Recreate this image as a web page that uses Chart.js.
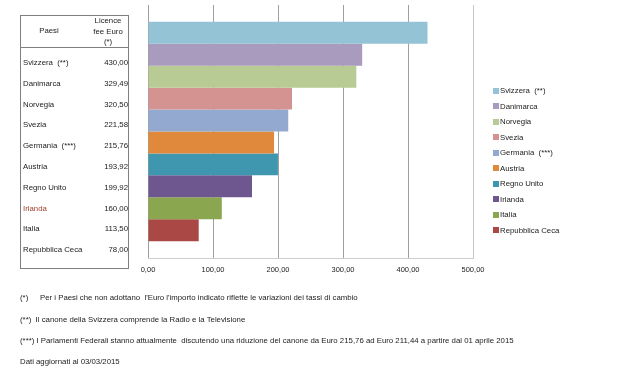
<!DOCTYPE html>
<html>
<head>
<meta charset="utf-8">
<script src="https://cdn.jsdelivr.net/npm/chart.js@4"></script>
<style>
    body { margin: 0; background: #fff; font-family: 'Liberation Sans', Arial, sans-serif; font-size: 7.8px; color: #222; }
    #wrap { position: relative; width: 618px; height: 366px; overflow: hidden; }
    #chart { position: absolute; left: 0; top: 0; }
    .abs { position: absolute; white-space: pre; line-height: 10px; }
    #table { position: absolute; left: 20px; top: 15px; width: 107px; height: 252px; border: 1px solid #7f7f7f; }
    #table .sep { position: absolute; left: 0; right: 0; top: 31px; border-top: 1px solid #7f7f7f; }
    .sw { display: inline-block; width: 6px; height: 6px; margin-right: 1px; vertical-align: -0.5px; }
</style>
</head>
<body>
<div id="wrap">
    <canvas id="chart" width="618" height="366"></canvas>
    <div id="table"><div class="sep"></div></div>
    <div id="legend"></div>
    <div id="notes"></div>
</div>
<script>
var countries = ['Svizzera  (**)', 'Danimarca', 'Norvegia', 'Svezia', 'Germania  (***)', 'Austria', 'Regno Unito', 'Irlanda', 'Italia', 'Repubblica Ceca'];
var fees = [430.00, 329.49, 320.50, 221.58, 215.76, 193.92, 199.92, 160.00, 113.50, 78.00];
var colors = ['#93c3d5', '#a99bbd', '#b8cb95', '#d49290', '#93a9cf', '#e0883c', '#3f97af', '#6e578f', '#8aa64f', '#a94845'];
var xTicks = [0, 100, 200, 300, 400, 500];

function fmt(v) {
    return v.toFixed(2).replace('.', ',');
}

// table on the left
var table = document.getElementById('table');
table.insertAdjacentHTML('beforeend',
    `<div class="abs" style="left:0;width:56px;top:10px;text-align:center">Paesi</div>
     <div class="abs" style="left:66px;width:42px;top:0px;text-align:center;line-height:10.5px">Licence\nfee Euro\n(*)</div>`);
countries.forEach(function (c, i) {
    var top = 42 + i * 20.8;
    var col = c == 'Irlanda' ? '#a0402a' : '#222';
    table.insertAdjacentHTML('beforeend',
        `<div class="abs" style="left:2px;top:${top}px;color:${col}">${c}</div>
         <div class="abs" style="right:0px;top:${top}px;text-align:right">${fmt(fees[i])}</div>`);
});

// legend on the right
var legend = document.getElementById('legend');
countries.forEach(function (c, i) {
    legend.insertAdjacentHTML('beforeend',
        `<div class="abs" style="left:493px;top:${86 + i * 15.5}px"><span class="sw" style="background:${colors[i]}"></span>${c}</div>`);
});

// footnotes
document.getElementById('notes').innerHTML =
    `<div class="abs" style="left:20px;top:293px">(*)</div>
     <div class="abs" style="left:40px;top:293px">Per i Paesi che non adottano  l'Euro l'importo indicato riflette le variazioni dei tassi di cambio</div>
     <div class="abs" style="left:20px;top:315px">(**)  Il canone della Svizzera comprende la Radio e la Televisione</div>
     <div class="abs" style="left:20px;top:336px">(***) I Parlamenti Federali stanno attualmente  discutendo una riduzione del canone da Euro 215,76 ad Euro 211,44 a partire dal 01 aprile 2015</div>
     <div class="abs" style="left:20px;top:357px">Dati aggiornati al 03/03/2015</div>`;

var datasets = countries.map(function (c, i) {
    return {
        label: c,
        data: [fees[i]],
        backgroundColor: colors[i],
        borderWidth: 0,
        categoryPercentage: 0.867,
        barPercentage: 1
    };
});

new Chart(document.getElementById('chart'), {
    type: 'bar',
    data: { labels: [''], datasets: datasets },
    options: {
        indexAxis: 'y',
        responsive: false,
        animation: false,
        layout: { padding: { left: 148, right: 145, top: 5, bottom: 85 } },
        plugins: {
            legend: { display: false },
            tooltip: { enabled: false }
        },
        scales: {
            y: { display: false },
            x: {
                min: 0,
                max: 500,
                afterBuildTicks: function (axis) {
                    axis.ticks = xTicks.map(v => ({ value: v }));
                },
                grid: {
                    color: ctx => ctx.tick && ctx.tick.value == 500 ? '#c8c8c8' : '#a0a0a0',
                    lineWidth: 1,
                    drawTicks: false
                },
                border: { color: '#cfcfcf' },
                ticks: {
                    padding: 7,
                    color: '#222',
                    font: { family: 'Liberation Sans', size: 7.5 },
                    callback: v => fmt(v),
                    maxRotation: 0
                }
            }
        }
    }
});
</script>
</body>
</html>
